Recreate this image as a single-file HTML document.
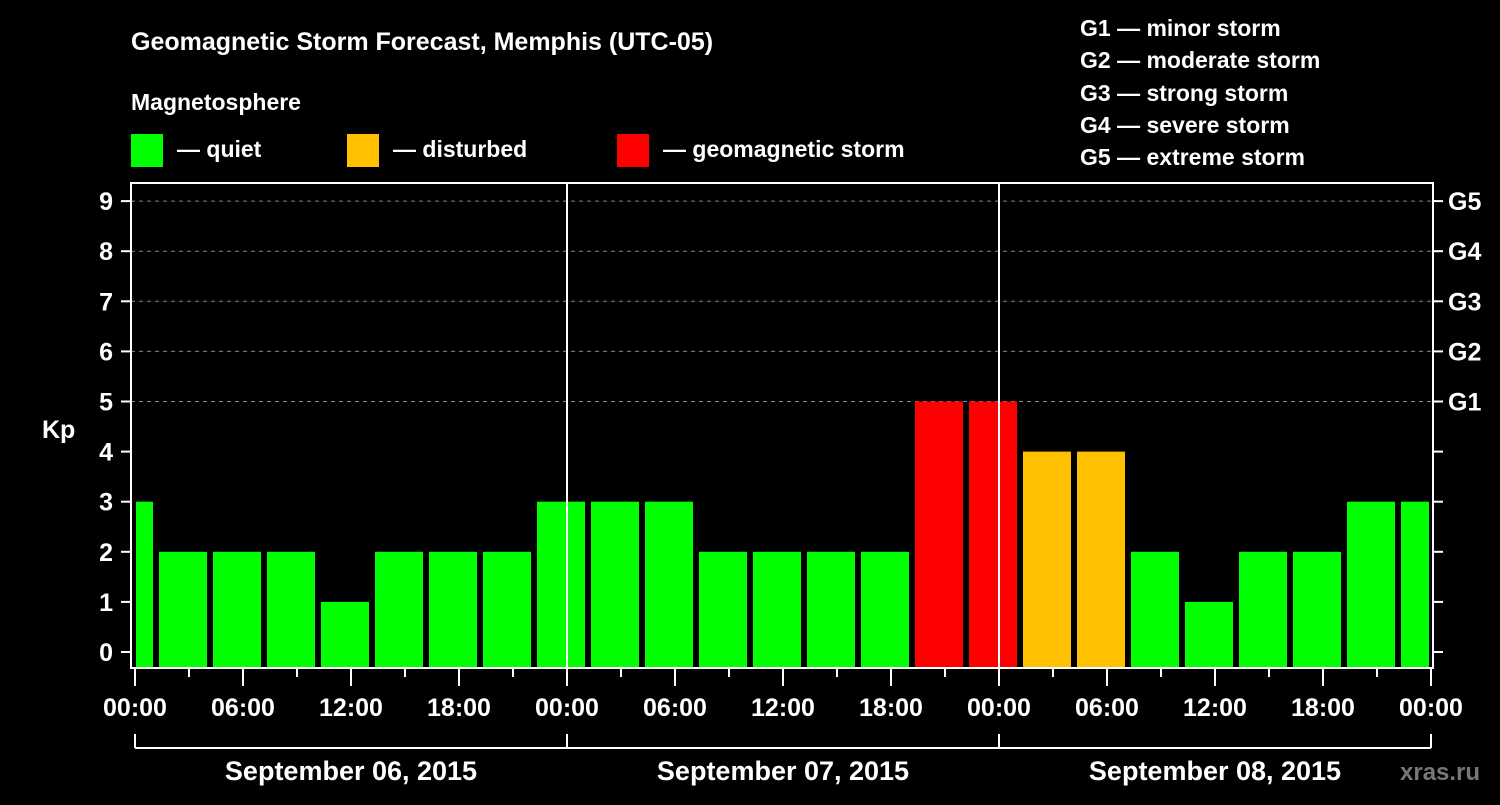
<!DOCTYPE html>
<html><head><meta charset="utf-8"><style>
body{margin:0;background:#000;}
svg text{font-family:"Liberation Sans",sans-serif;font-weight:bold;fill:#fff;}
</style></head><body>
<svg id="chart" width="1500" height="800" xmlns="http://www.w3.org/2000/svg">
<rect width="1500" height="800" fill="#000"/>
<text x="131" y="50" font-size="25">Geomagnetic Storm Forecast, Memphis (UTC-05)</text>
<text x="131" y="110" font-size="23">Magnetosphere</text>
<g><rect x="131" y="134" width="32" height="33" fill="#00ff00"/><text x="177" y="157" font-size="23">— quiet</text></g>
<g><rect x="347" y="134" width="32" height="33" fill="#ffc000"/><text x="393" y="157" font-size="23">— disturbed</text></g>
<g><rect x="617" y="134" width="32" height="33" fill="#ff0000"/><text x="663" y="157" font-size="23">— geomagnetic storm</text></g>
<g font-size="23">
<text x="1080" y="36">G1 — minor storm</text>
<text x="1080" y="68">G2 — moderate storm</text>
<text x="1080" y="101">G3 — strong storm</text>
<text x="1080" y="133">G4 — severe storm</text>
<text x="1080" y="165">G5 — extreme storm</text>
</g>
<text x="42" y="438" font-size="25">Kp</text>
<text x="1400" y="780" font-size="24" style="fill:#777">xras.ru</text>
<g id="grid"></g><g id="bars"></g><g id="axes"></g>
</svg>
<script>
const firstValue = 3;
const kpValues = [2,2,2,1,2,2,2,3,3,3,2,2,2,2,5,5,4,4,2,1,2,2,3,3];
const yTicks = [0,1,2,3,4,5,6,7,8,9];
const gLabels = ["G1","G2","G3","G4","G5"];
const xTickLabels = ["00:00","06:00","12:00","18:00","00:00","06:00","12:00","18:00","00:00","06:00","12:00","18:00","00:00"];
const dateLabels = ["September 06, 2015","September 07, 2015","September 08, 2015"];
const NS="http://www.w3.org/2000/svg";
const X0=135, PX_PER_H=18, L=131, R=1433, T=183, B=668;
const x=h=>X0+h*PX_PER_H;
const y=v=>652-v*50.1;
function mk(tag,at,parent,txt){const e=document.createElementNS(NS,tag);for(const k in at)e.setAttribute(k,at[k]);if(txt!==undefined)e.textContent=txt;document.getElementById(parent).appendChild(e);return e;}
const color=v=>v>=5?"#ff0000":(v>=4?"#ffc000":"#00ff00");
// grid
for(let v=5;v<=9;v++){const g=mk("line",{x1:L,x2:R,y1:y(v),y2:y(v),stroke:"#888","stroke-dasharray":"4,4","stroke-width":1},"grid");

}
// bars
let b=mk("rect",{x:x(0)+1,y:y(firstValue),width:x(1)-x(0)-1,height:B-y(firstValue),fill:color(firstValue)},"bars");


kpValues.forEach((v,i)=>{const s=x(1+3*i)+6, e=Math.min(x(4+3*i),R-4);
const r=mk("rect",{x:s,y:y(v),width:e-s,height:B-y(v),fill:color(v)},"bars");

});
// frame
const f=mk("rect",{x:L,y:T,width:R-L,height:B-T,fill:"none",stroke:"#fff","stroke-width":2},"axes");


[24,48].forEach(h=>{const d=mk("line",{x1:x(h),x2:x(h),y1:T,y2:B,stroke:"#fff","stroke-width":2},"axes");

});
yTicks.forEach(v=>{mk("line",{x1:121,x2:L,y1:y(v),y2:y(v),stroke:"#fff","stroke-width":2},"axes");
mk("line",{x1:R,x2:R+10,y1:y(v),y2:y(v),stroke:"#fff","stroke-width":2},"axes");
const t=mk("text",{x:113,y:y(v)+9,"text-anchor":"end","font-size":25},"axes",String(v));

});
gLabels.forEach((g,i)=>{const t=mk("text",{x:1448,y:y(5+i)+9,"font-size":25},"axes",g);

});
for(let h=0;h<=72;h+=3){const major=h%6===0;mk("line",{x1:x(h),x2:x(h),y1:B,y2:major?686:677,stroke:"#fff","stroke-width":2},"axes");}
xTickLabels.forEach((l,i)=>{const t=mk("text",{x:x(6*i),y:716,"text-anchor":"middle","font-size":25},"axes",l);

});
mk("line",{x1:x(0),x2:x(72),y1:748,y2:748,stroke:"#fff","stroke-width":2},"axes");
[0,24,48,72].forEach(h=>mk("line",{x1:x(h),x2:x(h),y1:734,y2:748,stroke:"#fff","stroke-width":2},"axes"));
dateLabels.forEach((d,i)=>{const t=mk("text",{x:x(24*i+12),y:780,"text-anchor":"middle","font-size":27},"axes",d);

});
</script>
</body></html>
